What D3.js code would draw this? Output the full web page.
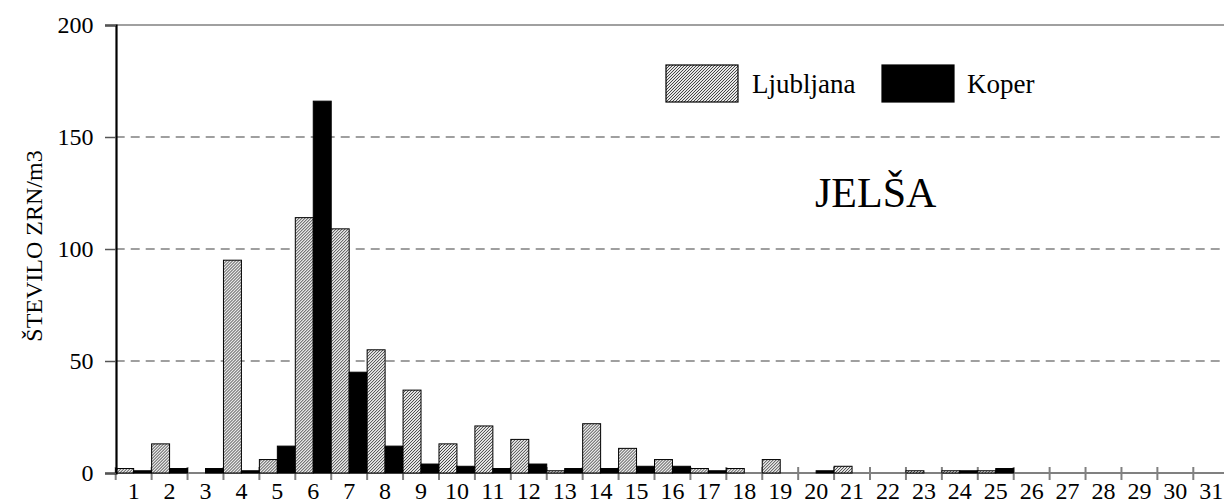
<!DOCTYPE html>
<html>
<head>
<meta charset="utf-8">
<script src="https://cdn.jsdelivr.net/npm/d3@7"></script>
<style>
  html, body { margin: 0; padding: 0; background: #fff; }
  svg { display: block; }
  svg text { font-family: "Liberation Serif", "Times New Roman", serif !important; }
</style>
</head>
<body>
<svg id="chart" width="1224" height="501"></svg>
<script>
const days = d3.range(1, 32).map(String);
const seriesNames = ["Ljubljana", "Koper"];
const ljubljana = [2, 13, 0, 95, 6, 114, 109, 55, 37, 13, 21, 15, 1, 22, 11, 6, 2, 2, 6, 0, 3, 0, 1, 1, 1, 0, 0, 0, 0, 0, 0];
const koper     = [1, 2, 2, 1, 12, 166, 45, 12, 4, 3, 2, 4, 2, 2, 3, 3, 1, 0, 0, 1, 0, 0, 0, 1, 2, 0, 0, 0, 0, 0, 0];
const yTicks = [0, 50, 100, 150, 200];
const yTitle = "ŠTEVILO ZRN/m3";
const plotTitle = "JELŠA";

const svg = d3.select("#chart");
const W = 1224, H = 501;
const left = 115.7, bandW = 35.92;
const x = d3.scaleBand().domain(days).range([left, left + bandW * days.length]).padding(0);
const xs = d3.scaleBand().domain(seriesNames).range([0, x.bandwidth()]).padding(0);
const y = d3.scaleLinear().domain([0, 200]).range([473, 25]);

// hatch pattern
const defs = svg.append("defs");
const pat = defs.append("pattern").attr("id", "hatch")
  .attr("patternUnits", "userSpaceOnUse").attr("width", 3).attr("height", 3);
pat.append("rect").attr("width", 3).attr("height", 3).attr("fill", "#e8e8e8");
pat.append("path").attr("d", "M-1,1 l2,-2 M0,3 l3,-3 M2,4 l2,-2")
  .attr("stroke", "#333").attr("stroke-width", 0.9);

const fills = { Ljubljana: "url(#hatch)", Koper: "#000" };

// gridlines
svg.append("g").selectAll("line").data(yTicks.filter(d => d > 0)).join("line")
  .attr("x1", left).attr("x2", W)
  .attr("y1", d => y(d)).attr("y2", d => y(d))
  .attr("stroke", "#808080").attr("stroke-width", 1.5)
  .attr("stroke-dasharray", d => d === 200 ? null : "9,6");

// x axis line + band-edge ticks
svg.append("line").attr("x1", left).attr("x2", W).attr("y1", y(0)).attr("y2", y(0))
  .attr("stroke", "#808080").attr("stroke-width", 2);
const edges = days.map(d => x(d));
svg.append("g").selectAll("line").data(edges).join("line")
  .attr("x1", d => d).attr("x2", d => d).attr("y1", 467).attr("y2", 480)
  .attr("stroke", "#808080").attr("stroke-width", 2);

// bars
const rows = days.map((d, i) => ({ day: d, values: [
  { name: "Ljubljana", v: ljubljana[i] }, { name: "Koper", v: koper[i] }] }));
svg.append("g").selectAll("g").data(rows).join("g")
  .attr("transform", d => `translate(${x(d.day)},0)`)
  .selectAll("rect").data(d => d.values.filter(v => v.v > 0)).join("rect")
  .attr("x", d => xs(d.name)).attr("width", xs.bandwidth())
  .attr("y", d => y(d.v)).attr("height", d => y(0) - y(d.v))
  .attr("fill", d => fills[d.name]).attr("stroke", "#000").attr("stroke-width", 1);

// x labels
const xAxis = svg.append("g").attr("transform", `translate(0,${y(0)})`)
  .call(d3.axisBottom(x).tickSize(0).tickPadding(9));
xAxis.attr("font-family", null).attr("font-size", null);
xAxis.select(".domain").remove();
xAxis.selectAll("text").attr("font-size", 24)
  .attr("fill", "#000").attr("dy", "0.71em");

// y axis
const yAxis = svg.append("g").attr("transform", `translate(116,0)`)
  .call(d3.axisLeft(y).tickValues(yTicks).tickSize(11).tickPadding(11.5));
yAxis.attr("font-family", null).attr("font-size", null);
yAxis.select(".domain").attr("stroke", "#000").attr("stroke-width", 2.2);
yAxis.selectAll(".tick line").attr("stroke", "#555").attr("stroke-width", 1.5);
yAxis.selectAll("text").attr("font-size", 24)
  .attr("fill", "#000").attr("dy", "0.3em");

// y title
svg.append("text").attr("transform", "translate(42,246) rotate(-90)")
  .attr("text-anchor", "middle").attr("font-size", 24).attr("fill", "#000").text(yTitle);

// legend
const legend = [
  { name: "Ljubljana", bx: 666, tx: 752 },
  { name: "Koper", bx: 882, tx: 967 }
];
const lg = svg.append("g");
lg.selectAll("rect").data(legend).join("rect")
  .attr("x", d => d.bx).attr("y", 65).attr("width", 72).attr("height", 37)
  .attr("fill", d => fills[d.name]).attr("stroke", "#000").attr("stroke-width", 1.2);
lg.selectAll("text").data(legend).join("text")
  .attr("x", d => d.tx).attr("y", 93).attr("font-size", 27).attr("fill", "#000")
  .text(d => d.name);

// station title
svg.append("text").attr("x", 815).attr("y", 207).attr("font-size", 42).attr("fill", "#000")
  .text(plotTitle);
</script>
</body>
</html>
